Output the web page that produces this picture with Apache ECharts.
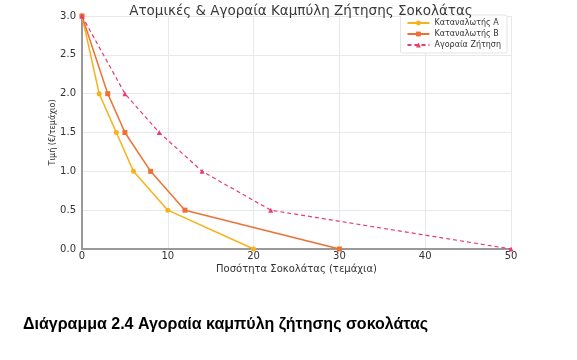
<!DOCTYPE html>
<html><head><meta charset="utf-8">
<script src="https://cdn.jsdelivr.net/npm/echarts@6/dist/echarts.min.js"></script>
<style>html,body{margin:0;padding:0;background:#fff}#c{width:577px;height:360px}</style>
</head><body><div id="c"></div>
<script>
const seriesNames = ['Καταναλωτής A', 'Καταναλωτής B', 'Αγοραία Ζήτηση'];
const prices = [3.0, 2.0, 1.5, 1.0, 0.5, 0.0];
const qtyA = [0, 2, 4, 6, 10, 20];
const qtyB = [0, 3, 5, 8, 12, 30];
const qtyMarket = [0, 5, 9, 14, 22, 50];
const xTicks = [0, 10, 20, 30, 40, 50];
const yTicks = [0.0, 0.5, 1.0, 1.5, 2.0, 2.5, 3.0];

const pairs = q => q.map((v, i) => [v, prices[i]]);
const chart = echarts.init(document.getElementById('c'));
const font = 'DejaVu Sans';
chart.setOption({
  animation: false,
  title: [
    {text: 'Ατομικές & Αγοραία Καμπύλη Ζήτησης Σοκολάτας', left: 296, top: -1, textAlign: 'center',
     textStyle: {fontFamily: font, fontSize: 13.5, fontWeight: 'normal', color: '#3a3a3a'}},
    {text: 'Διάγραμμα 2.4 Αγοραία καμπύλη ζήτησης σοκολάτας', left: 18, top: 312,
     textStyle: {fontFamily: 'Liberation Sans', fontSize: 16, fontWeight: 'bold', color: '#000'}}
  ],
  grid: {left: 82, right: 66, top: 16, bottom: 111},
  legend: {
    orient: 'vertical', right: 70, top: 15, itemWidth: 22, itemHeight: 6, itemGap: 3,
    backgroundColor: '#fff', borderColor: '#e4e4e4', borderWidth: 1, borderRadius: 2, padding: [4, 6, 4, 6],
    textStyle: {fontFamily: font, fontSize: 8, color: '#333'},
    data: seriesNames
  },
  xAxis: {
    type: 'value', min: 0, max: 50, interval: 10,
    name: 'Ποσότητα Σοκολάτας (τεμάχια)', nameLocation: 'middle', nameGap: 15, nameMoveOverlap: false,
    nameTextStyle: {fontFamily: font, fontSize: 10, color: '#333'},
    axisLine: {show: true, lineStyle: {color: '#999', width: 2}},
    axisTick: {show: false},
    axisLabel: {fontFamily: font, fontSize: 10, color: '#333', margin: 2,
      formatter: v => xTicks.includes(v) ? String(v) : ''},
    splitLine: {show: true, lineStyle: {color: '#e8e8e8'}}
  },
  yAxis: {
    type: 'value', min: 0, max: 3, interval: 0.5,
    name: 'Τιμή (€/τεμάχιο)', nameLocation: 'middle', nameGap: 25, nameRotate: 90, nameMoveOverlap: false,
    nameTextStyle: {fontFamily: font, fontSize: 8, color: '#333'},
    axisLine: {show: true, lineStyle: {color: '#999', width: 2}},
    axisTick: {show: false},
    axisLabel: {fontFamily: font, fontSize: 10, color: '#333', margin: 6,
      formatter: v => yTicks.some(t => Math.abs(t - v) < 1e-9) ? v.toFixed(1) : ''},
    splitLine: {show: true, lineStyle: {color: '#e8e8e8'}}
  },
  series: [
    {name: seriesNames[0], type: 'line', data: pairs(qtyA), symbol: 'circle', symbolSize: 5,
     itemStyle: {color: '#f7b21b'}, lineStyle: {color: '#f7b21b', width: 1.5}},
    {name: seriesNames[1], type: 'line', data: pairs(qtyB), symbol: 'rect', symbolSize: 5,
     itemStyle: {color: '#ee7134'}, lineStyle: {color: '#ee7134', width: 1.5}},
    {name: seriesNames[2], type: 'line', data: pairs(qtyMarket), symbol: 'triangle', symbolSize: 5,
     itemStyle: {color: '#e63d6e'}, lineStyle: {color: '#e63d6e', width: 1.2, type: [4, 3]}}
  ]
});
</script></body></html>
